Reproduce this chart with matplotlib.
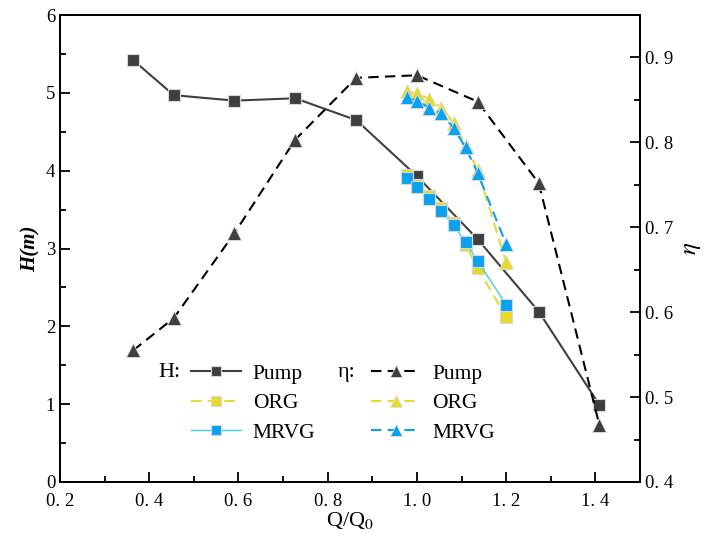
import matplotlib
matplotlib.use("Agg")
import matplotlib.pyplot as plt
from matplotlib.ticker import MultipleLocator, FuncFormatter

# pump curve (H and efficiency)
q_pump = [0.364, 0.455, 0.591, 0.727, 0.864, 1.0, 1.136, 1.273, 1.409]
h_pump = [5.42, 4.97, 4.90, 4.93, 4.65, 3.93, 3.12, 2.19, 0.99]
eta_pump = [0.555, 0.593, 0.693, 0.803, 0.876, 0.879, 0.848, 0.752, 0.467]

# ORG / MRVG
q_vg = [0.977, 1.0, 1.027, 1.055, 1.082, 1.109, 1.136, 1.2]
h_org = [3.94, 3.82, 3.68, 3.52, 3.33, 3.05, 2.75, 2.12]
h_mrvg = [3.90, 3.79, 3.64, 3.48, 3.30, 3.08, 2.84, 2.28]
eta_org = [0.860, 0.858, 0.851, 0.841, 0.823, 0.797, 0.767, 0.659]
eta_mrvg = [0.853, 0.849, 0.841, 0.834, 0.817, 0.794, 0.764, 0.680]

plt.rcParams['font.family'] = ['Liberation Serif', 'DejaVu Serif']
plt.rcParams['mathtext.fontset'] = 'stix'

dark = '#3f3f3f'
yel = '#e6d930'
blue = '#0aa2f0'
cyan = '#3fd3dc'

fig = plt.figure(figsize=(7.12, 5.42), dpi=100)
ax = fig.add_axes([60/712, 60/542, 580/712, 467/542])
ax2 = ax.twinx()

sq = dict(marker='s', markersize=8.5, markeredgecolor='#d8d8d8', markeredgewidth=0.8)
tri = dict(marker='^', markersize=10, markeredgecolor='#e0e0e0', markeredgewidth=0.6)

l1, = ax.plot(q_pump, h_pump, color=dark, lw=1.5, markerfacecolor=dark, **sq)
l2, = ax.plot(q_vg, h_org, color=yel, lw=1.5, ls=(0, (5, 3)), markerfacecolor=yel, **sq)
l3, = ax.plot(q_vg, h_mrvg, color=cyan, lw=1.0, markerfacecolor=blue, **sq)

l4, = ax2.plot(q_pump, eta_pump, color='black', lw=1.5, ls=(0, (5, 3)),
               markerfacecolor=dark, **tri)
l5, = ax2.plot(q_vg, eta_org, color=yel, lw=1.5, ls=(0, (5, 3)), markerfacecolor=yel, **tri)
l6, = ax2.plot(q_vg, eta_mrvg, color=blue, lw=1.5, ls=(0, (5, 3)), markerfacecolor=blue, **tri)

ax.set_xlim(0.2, 1.5)
ax.set_ylim(0, 6)
ax2.set_ylim(0.4, 0.95)

ax.xaxis.set_major_locator(MultipleLocator(0.2))
ax.xaxis.set_minor_locator(MultipleLocator(0.1))
ax.yaxis.set_major_locator(MultipleLocator(1))
ax.yaxis.set_minor_locator(MultipleLocator(0.5))
ax2.yaxis.set_major_locator(MultipleLocator(0.1))
ax2.yaxis.set_minor_locator(MultipleLocator(0.05))

spaced = FuncFormatter(lambda v, p: ('%.1f' % v).replace('.', '. '))
ax.xaxis.set_major_formatter(spaced)
ax2.yaxis.set_major_formatter(spaced)

for a in (ax, ax2):
    a.tick_params(which='both', direction='in', labelsize=13.5, width=1.3, top=False)
    a.tick_params(which='major', length=7)
    a.tick_params(which='minor', length=4)
    for s in a.spines.values():
        s.set_linewidth(1.3)
ax.tick_params(axis='x', pad=8)

ax.set_xlabel('Q/Q$_0$', fontsize=16, labelpad=0)
ax.set_ylabel('H(m)', fontsize=15, fontweight='bold', style='italic', labelpad=4)
ax2.set_ylabel('$\\eta$', fontsize=18, labelpad=6)

leg = ax.legend([l1, l2, l3, l4, l5, l6],
                ['Pump', 'ORG', 'MRVG', 'Pump', 'ORG', 'MRVG'],
                ncol=2, frameon=False, fontsize=15.5, loc='upper left',
                bbox_to_anchor=(0.193, 0.295), handlelength=2.3, markerscale=0.85,
                handletextpad=0.55, columnspacing=2.6, labelspacing=0.44)
ax.text(0.17, 0.235, 'H:', transform=ax.transAxes, fontsize=16, va='center')
ax.text(0.478, 0.235, 'η:', transform=ax.transAxes, fontsize=16, va='center')

fig.savefig('out.png', dpi=100)
